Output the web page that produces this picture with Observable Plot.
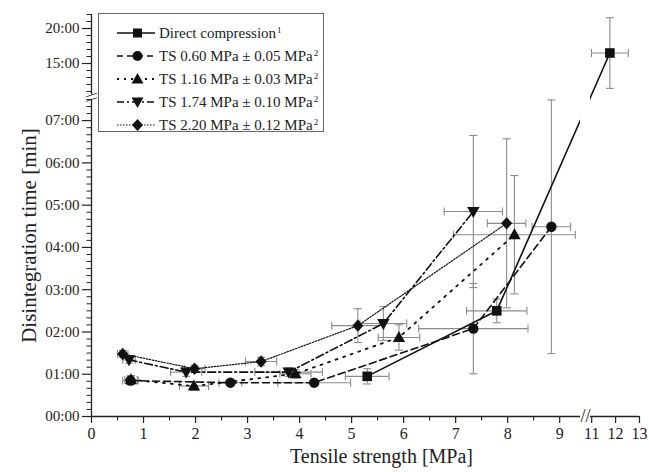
<!DOCTYPE html>
<html><head><meta charset="utf-8">
<script src="https://cdn.jsdelivr.net/npm/d3@7"></script>
<script src="https://cdn.jsdelivr.net/npm/@observablehq/plot@0.6"></script>
<style>
body{margin:0;background:#fff;}
#wrap{position:relative;width:649px;height:472px;font-family:"Liberation Serif","Times New Roman",serif;color:#222;}
#legend{position:absolute;left:98px;top:13px;width:226px;height:119px;border:1px solid #666;background:#fff;box-sizing:border-box;}
.row{position:absolute;left:0;height:20px;width:224px;}
.row svg{position:absolute;left:0;top:0;}
.row span{position:absolute;left:60px;top:1px;font-size:15px;line-height:18px;white-space:nowrap;}
.row sup{font-size:9px;vertical-align:top;position:relative;top:-3px;margin-left:1px;}
</style></head><body>
<div id="wrap"><div id="chart"></div><div id="legend"></div></div>
<script>
// ---- data (tensile strength MPa, its error; disintegration time in minutes, its error) ----
const seriesNames = ["Direct compression", "TS 0.60 MPa ± 0.05 MPa", "TS 1.16 MPa ± 0.03 MPa", "TS 1.74 MPa ± 0.10 MPa", "TS 2.20 MPa ± 0.12 MPa"];
const seriesNotes = ["1", "2", "2", "2", "2"];

const dcX  = [5.30, 7.79, 11.76];
const dcXe = [0.42, 0.58, 0.77];
const dcY  = [0.95, 2.50, 16.5];
const dcYe = [0.18, 0.28, 5.05];

const ts060X  = [0.75, 2.67, 4.28, 7.34, 8.84];
const ts060Xe = [0.15, 0.22, 0.70, 1.05, 0.37];
const ts060Y  = [0.85, 0.80, 0.80, 2.08, 4.49];
const ts060Ye = [0.10, 0.06, 0.05, 1.07, 3.00];

const ts116X  = [0.76, 1.97, 3.92, 5.91, 8.13];
const ts116Xe = [0.12, 0.28, 0.30, 0.40, 1.17];
const ts116Y  = [0.87, 0.72, 1.01, 1.87, 4.30];
const ts116Ye = [0.10, 0.10, 0.10, 0.30, 1.40];

const ts174X  = [0.72, 1.82, 3.79, 5.61, 7.34];
const ts174Xe = [0.12, 0.30, 0.65, 0.45, 0.56];
const ts174Y  = [1.34, 1.05, 1.05, 2.20, 4.85];
const ts174Ye = [0.08, 0.10, 0.10, 0.40, 1.80];

const ts220X  = [0.60, 1.98, 3.26, 5.12, 7.98];
const ts220Xe = [0.10, 0.20, 0.30, 0.50, 0.37];
const ts220Y  = [1.48, 1.13, 1.30, 2.15, 4.57];
const ts220Ye = [0.08, 0.08, 0.10, 0.40, 2.00];

// axis ticks / breaks
const xMajor = [0, 1, 2, 3, 4, 5, 6, 7, 8, 9, 11, 12, 13];
const xMinor = [0.5, 1.5, 2.5, 3.5, 4.5, 5.5, 6.5, 7.5, 8.5];
const yMajor = [0, 1, 2, 3, 4, 5, 6, 7, 15, 20];
const yMinorLow = d3.range(1, 46).filter(k => k % 6 !== 0).map(k => k / 6);
const yMinorHigh = [11, 12, 13, 14, 16, 17, 18, 19, 21, 22];
const xBreak = [9.4, 10.95];
const yBreak = [7.5, 10.5];
const xMax = 13, yMax = 22;
const xTitle = "Tensile strength [MPa]";
const yTitle = "Disintegration time [min]";

// ---- build tables ----
const raw = [[dcX, dcXe, dcY, dcYe], [ts060X, ts060Xe, ts060Y, ts060Ye], [ts116X, ts116Xe, ts116Y, ts116Ye], [ts174X, ts174Xe, ts174Y, ts174Ye], [ts220X, ts220Xe, ts220Y, ts220Ye]];
const series = raw.map(([X, Xe, Y, Ye], s) => X.map((x, i) => ({s, x, xe: Xe[i], y: Y[i], ye: Ye[i]})));
const all = series.flat();

const mk = {
  square: {draw(c){c.moveTo(-4.8,-4.8);c.lineTo(4.8,-4.8);c.lineTo(4.8,4.8);c.lineTo(-4.8,4.8);c.closePath();}},
  circle: {draw(c){c.moveTo(5.2,0);c.arc(0,0,5.2,0,2*Math.PI);c.closePath();}},
  triUp: {draw(c){c.moveTo(0,-6.5);c.lineTo(6.2,4.5);c.lineTo(-6.2,4.5);c.closePath();}},
  triDown: {draw(c){c.moveTo(0,6.5);c.lineTo(6.2,-4.5);c.lineTo(-6.2,-4.5);c.closePath();}},
  diamond: {draw(c){c.moveTo(0,-6.2);c.lineTo(5.6,0);c.lineTo(0,6.2);c.lineTo(-5.6,0);c.closePath();}},
  hcap: {draw(c){c.moveTo(-4,0);c.lineTo(4,0);}},
  vcap: {draw(c){c.moveTo(0,-4);c.lineTo(0,4);}},
  yTick: {draw(c){c.moveTo(-5,0);c.lineTo(0,0);}},
  xTick: {draw(c){c.moveTo(0,0);c.lineTo(0,4);}}
};
const markers = [mk.square, mk.circle, mk.triUp, mk.triDown, mk.diamond];
const dashes = [null, "7,4", "2,6", "8,3,2,3", "1.5,1.5"];
const widths = [1.6, 1.6, 1.8, 1.6, 1.2];
const errColor = "#8c8c8c";
const axisColor = "#222";

const marks = [
  Plot.ruleY(all, {y: "y", x1: d => d.x - d.xe, x2: d => d.x + d.xe, stroke: errColor, strokeWidth: 1.1}),
  Plot.ruleX(all, {x: "x", y1: d => d.y - d.ye, y2: d => d.y + d.ye, stroke: errColor, strokeWidth: 1.1}),
  Plot.dot(all, {x: d => d.x - d.xe, y: "y", symbol: mk.vcap, stroke: errColor, fill: "none", strokeWidth: 1.1}),
  Plot.dot(all, {x: d => d.x + d.xe, y: "y", symbol: mk.vcap, stroke: errColor, fill: "none", strokeWidth: 1.1}),
  Plot.dot(all, {x: "x", y: d => d.y - d.ye, symbol: mk.hcap, stroke: errColor, fill: "none", strokeWidth: 1.1}),
  Plot.dot(all, {x: "x", y: d => d.y + d.ye, symbol: mk.hcap, stroke: errColor, fill: "none", strokeWidth: 1.1}),
  ...series.map((data, s) => Plot.line(data, {x: "x", y: "y", stroke: "#111", strokeWidth: widths[s], strokeDasharray: dashes[s]})),
  // gap of the broken x axis
  Plot.rect([xBreak], {x1: d => d[0], x2: d => d[1], y1: () => 0, y2: () => yMax, fill: "white"}),
  ...series.map((data, s) => Plot.dot(data, {x: "x", y: "y", symbol: markers[s], fill: "#111", stroke: "none"})),
  // axis lines with breaks
  Plot.ruleY([0], {x1: () => 0, x2: () => xBreak[0], stroke: axisColor, strokeWidth: 1.3}),
  Plot.ruleY([0], {x1: () => xBreak[1], x2: () => xMax, stroke: axisColor, strokeWidth: 1.3}),
  Plot.ruleX([0], {y1: () => 0, y2: () => yBreak[0], stroke: axisColor, strokeWidth: 1.3}),
  Plot.ruleX([0], {y1: () => yBreak[1], y2: () => yMax, stroke: axisColor, strokeWidth: 1.3}),
  Plot.axisX(xMajor, {tickSize: 7, tickPadding: 4, fontSize: 16, label: null, stroke: axisColor, strokeWidth: 1.2}),
  Plot.dot(xMinor, {x: d => d, y: () => 0, symbol: mk.xTick, stroke: axisColor, fill: "none", strokeWidth: 1.1}),
  Plot.axisY(yMajor, {tickSize: 9, tickPadding: 3, fontSize: 15, label: null, stroke: axisColor, strokeWidth: 1.2, tickFormat: d => String(d).padStart(2, "0") + ":00"}),
  Plot.dot(yMinorLow.concat(yMinorHigh), {x: () => 0, y: d => d, symbol: mk.yTick, stroke: axisColor, fill: "none", strokeWidth: 1}),
  // break symbols
  Plot.text(["//"], {x: () => (xBreak[0] + xBreak[1]) / 2, y: () => 0, fontSize: 18, fill: axisColor}),
  Plot.text(["\\\\"], {x: () => 0, y: () => (yBreak[0] + yBreak[1]) / 2, rotate: 90, fontSize: 16, fill: axisColor}),
  // titles
  Plot.text([xTitle], {frameAnchor: "bottom", textAnchor: "middle", lineAnchor: "middle", dx: 16, dy: 40, fontSize: 20, fill: axisColor}),
  Plot.text([yTitle], {frameAnchor: "left", textAnchor: "middle", lineAnchor: "middle", rotate: -90, dx: -62, dy: 20, fontSize: 21, fill: axisColor})
];

const chart = Plot.plot({
  width: 649, height: 472,
  marginLeft: 91, marginRight: 10, marginTop: 14, marginBottom: 56,
  style: {fontFamily: "'Liberation Serif', 'Times New Roman', serif", fontSize: "15px", color: "#222", background: "white"},
  x: {type: "linear", domain: [0, xBreak[0], xBreak[1], xMax], range: [91, 580, 590, 639]},
  y: {type: "linear", domain: [0, yBreak[0], yBreak[1], yMax], range: [416, 99, 94.5, 14]},
  marks
});
document.getElementById("chart").appendChild(chart);

// ---- legend ----
const legend = document.getElementById("legend");
const markerPaths = [
  "M-4.5,-4.5L4.5,-4.5L4.5,4.5L-4.5,4.5Z",
  "M5,0A5,5,0,1,1,-5,0A5,5,0,1,1,5,0Z",
  "M0,-6L6,4.5L-6,4.5Z",
  "M0,6L6,-4.5L-6,-4.5Z",
  "M0,-6L5.5,0L0,6L-5.5,0Z"
];
const legendDash = [null, "6,4", "2,5", "7,3,2,3", "1.5,1.5"];
seriesNames.forEach((name, s) => {
  const row = document.createElement("div");
  row.className = "row";
  row.style.top = (9 + s * 23) + "px";
  const dash = legendDash[s] ? `stroke-dasharray="${legendDash[s]}"` : "";
  row.innerHTML = `<svg width="60" height="20"><line x1="18" y1="10" x2="56" y2="10" stroke="#111" stroke-width="${widths[s]}" ${dash}/>` +
    `<path d="${markerPaths[s]}" transform="translate(38.5,10)" fill="#111"/></svg>` +
    `<span>${name}<sup>${seriesNotes[s]}</sup></span>`;
  legend.appendChild(row);
});
</script>
</body></html>
